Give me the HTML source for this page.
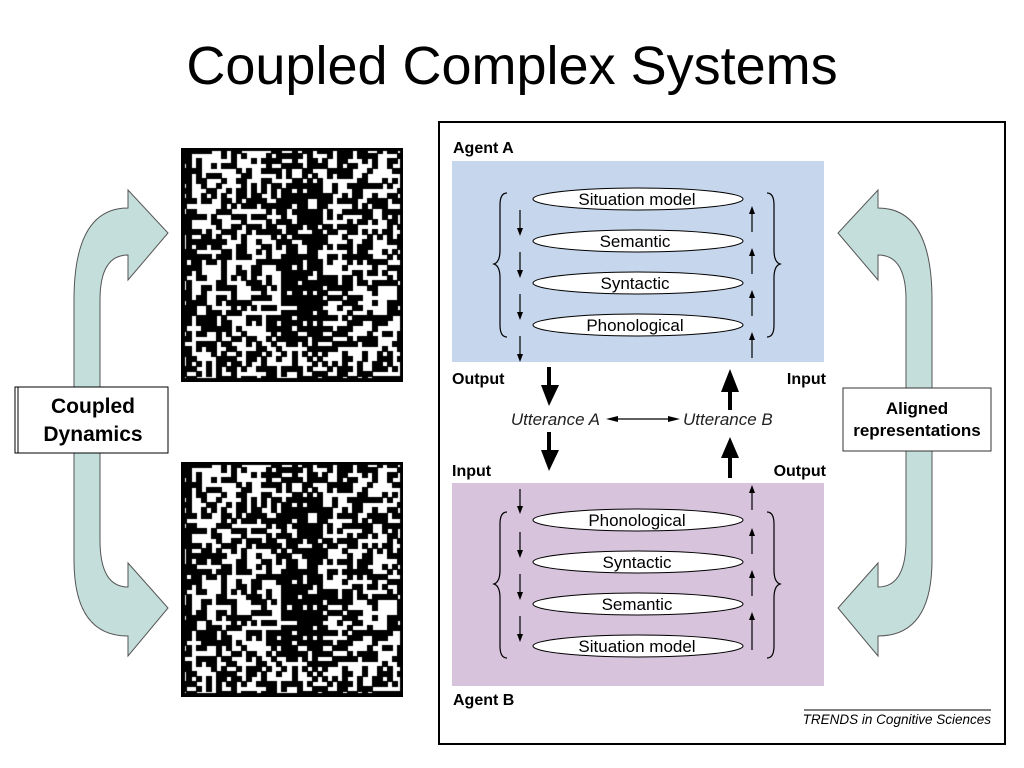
<!DOCTYPE html>
<html><head><meta charset="utf-8"><style>
body{margin:0;width:1024px;height:768px;background:#fff;overflow:hidden;position:relative;font-family:"Liberation Sans",sans-serif}
canvas{position:absolute}
</style></head><body>
<svg width="1024" height="768" style="position:absolute;left:0;top:0" font-family="Liberation Sans, sans-serif">
<defs>
<marker id="ah" markerWidth="8" markerHeight="8" refX="4" refY="4" orient="auto" markerUnits="userSpaceOnUse"><path d="M0,1 L8,4 L0,7 Z" fill="#000"/></marker>
<g id="arrL">
<path d="M74,560 L74,300 Q74,208 128,208 L128,190 L168,233 L128,280 L128,255 Q100,255 100,300 L100,540 Q100,587 128,587 L128,563 L168,608 L128,656 L128,636 Q74,636 74,560 Z" fill="#c4dfdb" stroke="#555" stroke-width="1"/>
</g>
</defs>
<text x="512" y="84" font-size="54" text-anchor="middle" fill="#000">Coupled Complex Systems</text>
<use href="#arrL"/>
<rect x="15" y="387" width="153" height="66" fill="#fff" stroke="#000"/>
<rect x="18" y="387" width="150" height="66" fill="#fff" stroke="#000"/>
<text x="93" y="413" font-size="21" font-weight="bold" text-anchor="middle">Coupled</text>
<text x="93" y="441" font-size="21" font-weight="bold" text-anchor="middle">Dynamics</text>
<rect x="439" y="122" width="566" height="622" fill="none" stroke="#000" stroke-width="2"/>
<use href="#arrL" transform="translate(1006,0) scale(-1,1)"/>
<rect x="843" y="388" width="148" height="63" fill="#fff" stroke="#333"/>
<text x="917" y="414" font-size="17" font-weight="bold" text-anchor="middle">Aligned</text>
<text x="917" y="436" font-size="17" font-weight="bold" text-anchor="middle">representations</text>
<text x="453" y="153" font-size="16" font-weight="bold">Agent A</text>
<rect x="452" y="161" width="372" height="201" fill="#c6d6ed"/>
<rect x="452" y="483" width="372" height="203" fill="#d8c3dc"/>
<text x="453" y="705" font-size="16" font-weight="bold">Agent B</text>
<g font-size="17" text-anchor="middle" stroke-width="1">
<g fill="#fff" stroke="#000">
<ellipse cx="638" cy="199" rx="105" ry="11"/><ellipse cx="638" cy="241" rx="105" ry="11"/>
<ellipse cx="638" cy="283" rx="105" ry="11"/><ellipse cx="638" cy="325" rx="105" ry="11"/>
<ellipse cx="638" cy="520" rx="105" ry="11"/><ellipse cx="638" cy="562" rx="105" ry="11"/>
<ellipse cx="638" cy="604" rx="105" ry="11"/><ellipse cx="638" cy="646" rx="105" ry="11"/>
</g>
<text x="637" y="205">Situation model</text><text x="635" y="247">Semantic</text>
<text x="635" y="289">Syntactic</text><text x="635" y="331">Phonological</text>
<text x="637" y="526">Phonological</text><text x="637" y="568">Syntactic</text>
<text x="637" y="610">Semantic</text><text x="637" y="652">Situation model</text>
</g>
<g stroke="#000" stroke-width="1.2" fill="none">
<path d="M520,210 V232" marker-end="url(#ah)"/><path d="M520,252 V274" marker-end="url(#ah)"/>
<path d="M520,294 V316" marker-end="url(#ah)"/><path d="M520,336 V358" marker-end="url(#ah)"/>
<path d="M752,232 V210" marker-end="url(#ah)"/><path d="M752,274 V252" marker-end="url(#ah)"/>
<path d="M752,316 V294" marker-end="url(#ah)"/><path d="M752,358 V336" marker-end="url(#ah)"/>
<path d="M520,489 V510" marker-end="url(#ah)"/><path d="M520,532 V554" marker-end="url(#ah)"/>
<path d="M520,574 V596" marker-end="url(#ah)"/><path d="M520,616 V638" marker-end="url(#ah)"/>
<path d="M752,510 V489" marker-end="url(#ah)"/><path d="M752,554 V532" marker-end="url(#ah)"/>
<path d="M752,596 V574" marker-end="url(#ah)"/><path d="M752,650 V616" marker-end="url(#ah)"/>
<path d="M507,193 Q500,193 500,205 V250 Q500,262 494,264 Q500,266 500,278 V325 Q500,337 507,337"/>
<path d="M767,193 Q774,193 774,205 V250 Q774,262 780,264 Q774,266 774,278 V325 Q774,337 767,337"/>
<path d="M507,512 Q500,512 500,524 V570 Q500,582 494,584 Q500,586 500,598 V646 Q500,658 507,658"/>
<path d="M767,512 Q774,512 774,524 V570 Q774,582 780,584 Q774,586 774,598 V646 Q774,658 767,658"/>
<path d="M614,419 H674"/>
</g>
<path d="M606,419 L618,416 L618,422 Z M680,419 L668,416 L668,422 Z"/>
<g fill="#000">
<rect x="547" y="367" width="4" height="22"/><path d="M541,385 L559,385 L549,406 Z"/>
<rect x="547" y="432" width="4" height="22"/><path d="M541,450 L559,450 L549,471 Z"/>
<rect x="728" y="386" width="4" height="24"/><path d="M721,392 L739,392 L730,369 Z"/>
<rect x="728" y="452" width="4" height="26"/><path d="M721,458 L739,458 L730,437 Z"/>
</g>
<g font-size="16" font-weight="bold">
<text x="452" y="384">Output</text><text x="826" y="384" text-anchor="end">Input</text>
<text x="452" y="476">Input</text><text x="826" y="476" text-anchor="end">Output</text>
</g>
<g font-size="17" font-style="italic" fill="#222">
<text x="600" y="425" text-anchor="end">Utterance A</text>
<text x="683" y="425">Utterance B</text>
</g>
<line x1="804" y1="710" x2="991" y2="710" stroke="#000"/>
<text x="991" y="724" font-size="13.5" font-style="italic" text-anchor="end">TRENDS in Cognitive Sciences</text>
</svg>
<canvas id="c1" width="222" height="234" style="left:181px;top:148px"></canvas>
<canvas id="c2" width="222" height="235" style="left:181px;top:462px"></canvas>
<script>
function draw(id){
 var c=document.getElementById(id),x=c.getContext('2d');
 var s=12345;function r(){s=(s*1103515245+12345)&0x7fffffff;return s/0x7fffffff;}
 x.fillStyle='#fff';x.fillRect(0,0,c.width,c.height);x.fillStyle='#000';
 var n=44,w=c.width/n,h=c.height/46;
 for(var i=0;i<n;i++)for(var j=0;j<46;j++){
  var p=0.45; if(i>=20&&i<=27&&j>6&&j<38)p=0.8; if(i<2||j>44)p=0.75;
  if(r()<p)x.fillRect(Math.floor(i*w),Math.floor(j*h),Math.ceil(w),Math.ceil(h));
 }
 x.fillRect(0,0,c.width,3);x.fillRect(0,c.height-4,c.width,4);x.fillRect(0,0,4,c.height);x.fillRect(c.width-3,0,3,c.height);
}
draw('c1');draw('c2');
</script>
</body></html>
